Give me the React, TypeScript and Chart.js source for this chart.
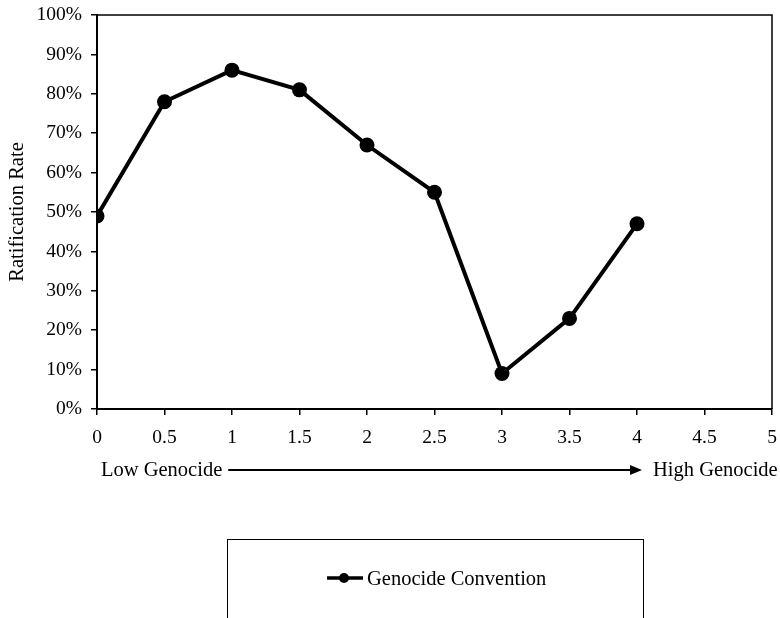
import React, { useEffect, useRef } from "react";
import { Chart, registerables } from "chart.js";

Chart.register(...registerables);

const xValues = [0, 0.5, 1, 1.5, 2, 2.5, 3, 3.5, 4];
const ratification = [49, 78, 86, 81, 67, 55, 9, 23, 47];
const seriesLabel = "Genocide Convention";
const yTitle = "Ratification Rate";
const lowLabel = "Low Genocide";
const highLabel = "High Genocide";

const FONT = "'Liberation Serif', 'Times New Roman', serif";
const FS = 19.5;
const FS2 = 20.5;

const extras = {
  id: "extras",
  afterDraw(chart: any) {
    const { ctx, chartArea: a } = chart;
    const xs = chart.scales.x;
    ctx.save();
    // top & right frame
    ctx.strokeStyle = "#000";
    ctx.lineWidth = 1.5;
    ctx.beginPath();
    ctx.moveTo(a.left, a.top);
    ctx.lineTo(a.right, a.top);
    ctx.lineTo(a.right, a.bottom);
    ctx.stroke();

    // Low -> High annotation
    ctx.fillStyle = "#000";
    ctx.font = `${FS2}px ${FONT}`;
    ctx.textBaseline = "middle";
    const ay = 471;
    ctx.textAlign = "left";
    ctx.fillText(lowLabel, a.left + 4, ay);
    const lowW = ctx.measureText(lowLabel).width;
    const tip = xs.getPixelForValue(4) + 5;
    ctx.lineWidth = 2;
    ctx.beginPath();
    ctx.moveTo(a.left + 4 + lowW + 6, ay - 1);
    ctx.lineTo(tip - 10, ay - 1);
    ctx.stroke();
    ctx.beginPath();
    ctx.moveTo(tip, ay - 1);
    ctx.lineTo(tip - 12, ay - 6);
    ctx.lineTo(tip - 12, ay + 4);
    ctx.closePath();
    ctx.fill();
    ctx.fillText(highLabel, tip + 11, ay);

    // legend box
    ctx.lineWidth = 1;
    ctx.strokeRect(227.5, 539.5, 416, 100);
    const ly = 578;
    ctx.lineWidth = 3.5;
    ctx.beginPath();
    ctx.moveTo(327, ly);
    ctx.lineTo(363, ly);
    ctx.stroke();
    ctx.beginPath();
    ctx.arc(344, ly, 5, 0, Math.PI * 2);
    ctx.fill();
    ctx.fillText(chart.data.datasets[0].label, 367, ly + 2);
    ctx.restore();
  },
};

export default function App() {
  const ref = useRef<HTMLCanvasElement>(null);
  useEffect(() => {
    document.body.style.margin = "0";
    const chart = new Chart(ref.current!, {
      type: "line",
      data: {
        datasets: [
          {
            label: seriesLabel,
            data: xValues.map((x, i) => ({ x, y: ratification[i] })),
            borderColor: "#000",
            backgroundColor: "#000",
            borderWidth: 4,
            pointRadius: 7.5,
            pointHoverRadius: 7.5,
            pointBackgroundColor: "#000",
            pointBorderWidth: 0,
            tension: 0,
          },
        ],
      },
      plugins: [extras],
      options: {
        responsive: false,
        animation: false,
        layout: { padding: { left: 0, right: 8, top: 15, bottom: 0 } },
        plugins: { legend: { display: false }, tooltip: { enabled: false } },
        scales: {
          x: {
            type: "linear",
            min: 0,
            max: 5,
            afterFit: (s: any) => {
              s.height = 618 - 409;
              s.paddingRight = 0;
              s.paddingLeft = 0;
            },
            ticks: {
              stepSize: 0.5,
              color: "#000",
              padding: 11,
              font: { family: FONT, size: FS },
              maxRotation: 0,
              autoSkip: false,
              callback: (v: any) => String(Number(v)),
            },
            grid: {
              drawOnChartArea: false,
              drawTicks: true,
              tickLength: 6,
              color: "#000",
              lineWidth: 1.5,
            },
            border: { display: true, color: "#000", width: 2 },
          },
          y: {
            min: 0,
            max: 100,
            afterFit: (s: any) => {
              s.width = 97;
              s.paddingTop = 0;
              s.paddingBottom = 0;
            },
            ticks: {
              stepSize: 10,
              color: "#000",
              padding: 9,
              font: { family: FONT, size: FS },
              callback: (v: any) => `${v}%`,
            },
            grid: {
              drawOnChartArea: false,
              drawTicks: true,
              tickLength: 6,
              color: "#000",
              lineWidth: 1.5,
            },
            border: { display: true, color: "#000", width: 2 },
            title: {
              display: true,
              text: yTitle,
              color: "#000",
              font: { family: FONT, size: FS2 },
              padding: { top: 5, bottom: 0 },
            },
          },
        },
      },
    });
    return () => chart.destroy();
  }, []);
  return (
    <div style={{ position: "absolute", left: 0, top: 0, width: 780, height: 618 }}>
      <canvas ref={ref} width={780} height={618} />
    </div>
  );
}
